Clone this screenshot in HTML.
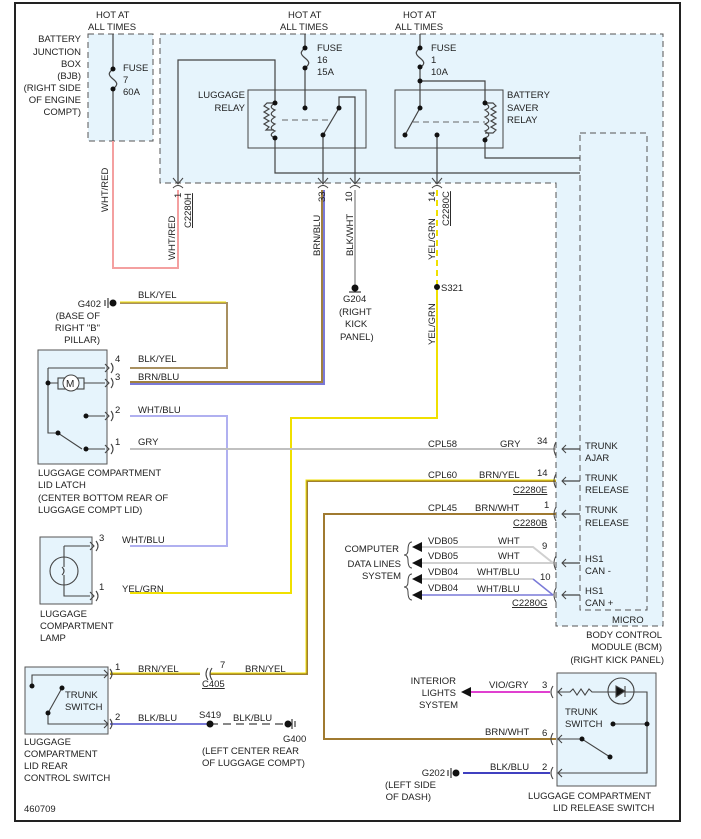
<!DOCTYPE html>
<html><head><meta charset="utf-8"><style>
html,body{margin:0;padding:0;background:#fff}
svg{display:block}
text{font-family:"Liberation Sans",Arial,sans-serif;font-size:9.5px;fill:#222}
</style></head><body>
<svg width="701" height="839" viewBox="0 0 701 839" xmlns="http://www.w3.org/2000/svg">
<rect x="15" y="3" width="665" height="818" fill="#fff" stroke="#222" stroke-width="2"/>
<rect x="88" y="34" width="65" height="107" fill="#e6f4fc" stroke="#555" stroke-dasharray="6,4"/>
<path d="M160,34 H663 V626 H556 V183 H160 Z" fill="#e6f4fc" stroke="#555" stroke-dasharray="6,4"/>
<rect x="580" y="133" width="67" height="477" fill="#e6f4fc" stroke="#555" stroke-dasharray="6,4"/>
<rect x="248" y="90" width="118" height="58" fill="#e6f4fc" stroke="#444"/>
<rect x="395" y="90" width="108" height="58" fill="#e6f4fc" stroke="#444"/>
<g fill="none" stroke="#444" stroke-width="1.2">
<path d="M113,34 V69 M113,89 V141 M113,69 c-5,4 -5,6 0,10 c5,4 5,6 0,10"/>
<path d="M305,34 V48 M305,68 V108 M305,48 c-5,4 -5,6 0,10 c5,4 5,6 0,10"/>
<path d="M178,183 V60 H275 V103 M275,138 V173 H580"/>
<path d="M275,103 c-5,3 -5,5 0,7 c-5,3 -5,5 0,7 c-5,3 -5,5 0,7 c-5,3 -5,5 0,7 c-5,3 -5,5 0,7 M275,103 h-8 l-3,3 5,3 -5,3 5,3 -5,3 5,3 -5,3 5,3 -3,3 h8"/>
<path d="M323,183 V135 L339,108 V97 H355 V183"/>
<path d="M420,34 V48 M420,67 V108 L405,135 M420,48 c-5,4 -5,6 0,10 c5,4 5,6 0,10 M420,81 H485 V103 M485,140 V158 H580"/>
<path d="M485,103 c5,3 5,5 0,7 c5,3 5,5 0,7 c5,3 5,5 0,7 c5,3 5,5 0,7 c5,3 5,5 0,7 M485,103 h8 l3,3 -5,3 5,3 -5,3 5,3 -5,3 5,3 -5,3 5,3 -3,3 h-8"/>
<path d="M437,135 V183"/>
<path d="M580,449 H562 M580,481 H562 M580,514 H562 M580,563 H562 M580,595 H562"/>
</g>
<g stroke="#666" stroke-dasharray="6,4" fill="none"><path d="M282,120 H330 M413,122 H485"/></g>
<g fill="#111">
<circle cx="113" cy="69" r="2.5"/><circle cx="113" cy="89" r="2.5"/>
<circle cx="305" cy="48" r="2.5"/><circle cx="305" cy="68" r="2.5"/><circle cx="305" cy="108" r="2.5"/>
<circle cx="275" cy="103" r="2.5"/><circle cx="275" cy="138" r="2.5"/>
<circle cx="339" cy="108" r="2.5"/><circle cx="323" cy="135" r="2.5"/>
<circle cx="420" cy="48" r="2.5"/><circle cx="420" cy="67" r="2.5"/><circle cx="420" cy="81" r="2.5"/><circle cx="420" cy="108" r="2.5"/>
<circle cx="405" cy="135" r="2.5"/><circle cx="437" cy="135" r="2.5"/>
<circle cx="485" cy="103" r="2.5"/><circle cx="485" cy="140" r="2.5"/>
</g>
<g fill="none" stroke="#444" stroke-width="1">
<path d="M173,178 L178,184 L183,178 M173,188 q5,-5 10,0"/>
<path d="M318,178 L323,184 L328,178 M318,188 q5,-5 10,0"/>
<path d="M350,178 L355,184 L360,178 M350,188 q5,-5 10,0"/>
<path d="M432,178 L437,184 L442,178 M432,188 q5,-5 10,0"/>
</g>
<g fill="none" stroke-width="2">
<path d="M113,141 V268 H178 V190" stroke="#f4a0a0"/>
<path d="M324,190 V384 H130" stroke="#7a79d8"/>
<path d="M322,190 V382 H130" stroke="#a08040"/>
<path d="M355,190 V288" stroke="#999" stroke-width="1.5"/>
<path d="M437,190 V287" stroke="#f0e000" stroke-dasharray="6,4"/>
<path d="M437,287 V418 H291 V593 H130" stroke="#f0e000"/>
<path d="M120,303 H227 V368 H130" stroke="#a89060"/>
<path d="M120,302 H226" stroke="#f0e000" stroke-width="1"/>
<path d="M130,416 H227 V546 H130" stroke="#b0b0f0"/>
<path d="M130,449 H556" stroke="#c0c0c0"/>
<path d="M556,481 H307 V674 H210 M200,674 H110" stroke="#a08030"/>
<path d="M556,480 H306 V673 M200,673 H110 M210,673 H306" stroke="#f0e000" stroke-width="1"/>
<path d="M556,514 H324 V739 H556" stroke="#a07a30"/>
<path d="M420,547 H533 L553,563 M420,563 H553 M420,579 H533" stroke="#d0d0d0"/>
<path d="M533,579 L553,595 M420,595 H553" stroke="#7a7ad8" stroke-width="1.5"/>
<path d="M110,724 H210" stroke="#7a7ad8"/>
<path d="M210,724 H283" stroke="#888" stroke-dasharray="8,5"/>
<path d="M470,692 H550" stroke="#e040d0"/>
<path d="M463,773 H550" stroke="#4040c0"/>
</g>
<g fill="#111" stroke="#111">
<circle cx="113" cy="303" r="3"/><path d="M108,298 V308 M105,300 V306" fill="none"/>
<circle cx="355" cy="288" r="3"/><path d="M349,292 H361" fill="none"/>
<circle cx="437" cy="287" r="2.5"/><circle cx="210" cy="724" r="3"/>
<circle cx="288" cy="724" r="3"/><path d="M292,719 V729 M295,721 V727" fill="none"/>
<circle cx="456" cy="773" r="3"/><path d="M451,768 V778 M448,770 V776" fill="none"/>
</g>
<rect x="38" y="350" width="69" height="114" fill="#e6f4fc" stroke="#555"/>
<g fill="none" stroke="#444" stroke-width="1.1">
<path d="M48,368 H105 M48,368 V433 H58 L82,449 M48,383 H58 M84,383 H105 M86,416 H105 M86,449 H105"/>
<rect x="58" y="378" width="26" height="11"/>
<path d="M105,364 l4,4 -4,4 M105,379 l4,4 -4,4 M105,412 l4,4 -4,4 M105,445 l4,4 -4,4"/>
<path d="M111,363 q4,5 0,10 M111,378 q4,5 0,10 M111,411 q4,5 0,10 M111,444 q4,5 0,10"/>
</g>
<circle cx="71" cy="383" r="8" fill="#fff" stroke="#444"/><text x="66" y="387" style="font-size:10px">M</text>
<g fill="#111"><circle cx="48" cy="383" r="2.5"/><circle cx="58" cy="433" r="2.5"/><circle cx="86" cy="449" r="2.5"/><circle cx="86" cy="416" r="2.5"/></g>
<rect x="40" y="537" width="52" height="67" fill="#e6f4fc" stroke="#555"/>
<g fill="none" stroke="#444" stroke-width="1.1">
<circle cx="64" cy="571" r="14"/><path d="M64,546 H90 M64,546 V567 M64,575 V596 H90 M62,567 q4,4 0,8 M90,542 l4,4 -4,4 M90,592 l4,4 -4,4 M96,541 q4,5 0,10 M96,591 q4,5 0,10"/>
</g>
<rect x="25" y="667" width="83" height="67" fill="#e6f4fc" stroke="#555"/>
<g fill="none" stroke="#444" stroke-width="1.1">
<path d="M32,686 V675 H108 M48,713 V724 H108 M48,713 L62,688 M104,670 l4,4 -4,4 M104,720 l4,4 -4,4 M110,669 q4,5 0,10 M110,719 q4,5 0,10"/>
<path d="M212,668 q-4,6 0,12 M208,668 q-4,6 0,12"/>
</g>
<g fill="#111"><circle cx="32" cy="686" r="2.5"/><circle cx="48" cy="713" r="2.5"/><circle cx="62" cy="688" r="2.5"/></g>
<rect x="557" y="673" width="99" height="113" fill="#e6f4fc" stroke="#555"/>
<g fill="none" stroke="#444" stroke-width="1.1">
<path d="M558,692 H570 l3,-3 4,6 4,-6 4,6 4,-6 3,3 H647 V773 H558 M613,724 H647 M558,739 H582 L610,757"/>
<circle cx="621" cy="691" r="13"/><path d="M616,686 V697 L625,691 Z M625,686 V697" fill="#111"/>
<path d="M562,688 l-4,4 4,4 M562,735 l-4,4 4,4 M562,769 l-4,4 4,4 M553,686 q-4,6 0,12 M553,733 q-4,6 0,12 M553,767 q-4,6 0,12"/>
</g>
<g fill="#111"><circle cx="613" cy="724" r="2.5"/><circle cx="647" cy="724" r="2.5"/><circle cx="582" cy="739" r="2.5"/><circle cx="610" cy="757" r="2.5"/></g>
<g fill="none" stroke="#444" stroke-width="1">
<path d="M566,445 l-4,4 4,4 M566,477 l-4,4 4,4 M566,510 l-4,4 4,4 M566,559 l-4,4 4,4 M566,591 l-4,4 4,4"/>
<path d="M556,442 q-4,7 0,14 M556,474 q-4,7 0,14 M556,507 q-4,7 0,14 M556,556 q-4,7 0,14 M556,588 q-4,7 0,14"/>
<path d="M412,542 q-4,0 -4,8 q0,5 -4,5 q4,0 4,5 q0,8 4,8 M412,574 q-4,0 -4,8 q0,5 -4,5 q4,0 4,5 q0,8 4,8"/>
</g>
<g fill="#111"><path d="M412,547 l10,-5 v10z M412,563 l10,-5 v10z M412,579 l10,-5 v10z M412,595 l10,-5 v10z M461,692 l10,-5 v10z"/></g>
<g>
<text x="96" y="18">HOT AT</text><text x="88" y="30">ALL TIMES</text>
<text x="288" y="18">HOT AT</text><text x="280" y="30">ALL TIMES</text>
<text x="403" y="18">HOT AT</text><text x="395" y="30">ALL TIMES</text>
<g text-anchor="end"><text x="81" y="42">BATTERY</text><text x="81" y="55">JUNCTION</text><text x="81" y="67">BOX</text><text x="81" y="79">(BJB)</text><text x="81" y="91">(RIGHT SIDE</text><text x="81" y="103">OF ENGINE</text><text x="81" y="115">COMPT)</text>
<text x="245" y="98">LUGGAGE</text><text x="245" y="111">RELAY</text></g>
<text x="123" y="71">FUSE</text><text x="123" y="83">7</text><text x="123" y="95">60A</text>
<text x="317" y="51">FUSE</text><text x="317" y="63">16</text><text x="317" y="75">15A</text>
<text x="431" y="51">FUSE</text><text x="431" y="63">1</text><text x="431" y="75">10A</text>
<text x="507" y="98">BATTERY</text><text x="507" y="111">SAVER</text><text x="507" y="123">RELAY</text>
<g transform="rotate(-90)">
<text x="-212" y="108">WHT/RED</text><text x="-260" y="175">WHT/RED</text>
<text x="-198" y="181">1</text><text x="-228" y="191" text-decoration="underline">C2280H</text>
<text x="-202" y="325">33</text><text x="-256" y="320">BRN/BLU</text>
<text x="-202" y="352">10</text><text x="-256" y="353">BLK/WHT</text>
<text x="-202" y="435">14</text><text x="-226" y="449" text-decoration="underline">C2280C</text>
<text x="-260" y="435">YEL/GRN</text><text x="-345" y="435">YEL/GRN</text>
</g>
<text x="441" y="291">S321</text>
<text x="343" y="302">G204</text><text x="339" y="315">(RIGHT</text><text x="345" y="327">KICK</text><text x="340" y="340">PANEL)</text>
<g text-anchor="end"><text x="101" y="307">G402</text><text x="100" y="319">(BASE OF</text><text x="100" y="331">RIGHT "B"</text><text x="100" y="343">PILLAR)</text></g>
<text x="138" y="298">BLK/YEL</text>
<text x="115" y="362">4</text><text x="138" y="362">BLK/YEL</text>
<text x="115" y="380">3</text><text x="138" y="380">BRN/BLU</text>
<text x="115" y="413">2</text><text x="138" y="413">WHT/BLU</text>
<text x="115" y="445">1</text><text x="138" y="445">GRY</text>
<text x="38" y="476">LUGGAGE COMPARTMENT</text><text x="38" y="488">LID LATCH</text><text x="38" y="501">(CENTER BOTTOM REAR OF</text><text x="38" y="513">LUGGAGE COMPT LID)</text>
<text x="99" y="541">3</text><text x="122" y="543">WHT/BLU</text>
<text x="99" y="590">1</text><text x="122" y="592">YEL/GRN</text>
<text x="40" y="617">LUGGAGE</text><text x="40" y="629">COMPARTMENT</text><text x="40" y="641">LAMP</text>
<text x="428" y="447">CPL58</text><text x="500" y="447">GRY</text><text x="537" y="444">34</text>
<text x="428" y="478">CPL60</text><text x="479" y="478">BRN/YEL</text><text x="537" y="476">14</text>
<text x="513" y="493" text-decoration="underline">C2280E</text>
<text x="428" y="511">CPL45</text><text x="475" y="511">BRN/WHT</text><text x="544" y="508">1</text>
<text x="513" y="526" text-decoration="underline">C2280B</text>
<text x="428" y="544">VDB05</text><text x="498" y="544">WHT</text><text x="542" y="549">9</text>
<text x="428" y="559">VDB05</text><text x="498" y="559">WHT</text>
<text x="428" y="575">VDB04</text><text x="477" y="575">WHT/BLU</text><text x="540" y="580">10</text>
<text x="428" y="591">VDB04</text><text x="477" y="592">WHT/BLU</text>
<text x="512" y="606" text-decoration="underline">C2280G</text>
<g text-anchor="end"><text x="399" y="552">COMPUTER</text><text x="401" y="567">DATA LINES</text><text x="401" y="579">SYSTEM</text></g>
<text x="585" y="449">TRUNK</text><text x="585" y="461">AJAR</text>
<text x="585" y="481">TRUNK</text><text x="585" y="493">RELEASE</text>
<text x="585" y="513">TRUNK</text><text x="585" y="526">RELEASE</text>
<text x="585" y="562">HS1</text><text x="585" y="574">CAN -</text>
<text x="585" y="594">HS1</text><text x="585" y="606">CAN +</text>
<text x="612" y="623">MICRO</text>
<g text-anchor="end"><text x="662" y="638">BODY CONTROL</text><text x="662" y="650">MODULE (BCM)</text><text x="664" y="663">(RIGHT KICK PANEL)</text></g>
<text x="115" y="670">1</text><text x="138" y="672">BRN/YEL</text>
<text x="220" y="668">7</text><text x="245" y="672">BRN/YEL</text><text x="202" y="687" text-decoration="underline">C405</text>
<text x="65" y="698">TRUNK</text><text x="65" y="710">SWITCH</text>
<text x="115" y="720">2</text><text x="138" y="721">BLK/BLU</text>
<text x="199" y="718">S419</text><text x="233" y="721">BLK/BLU</text>
<text x="283" y="742">G400</text><text x="202" y="754">(LEFT CENTER REAR</text><text x="202" y="766">OF LUGGAGE COMPT)</text>
<text x="24" y="745">LUGGAGE</text><text x="24" y="757">COMPARTMENT</text><text x="24" y="769">LID REAR</text><text x="24" y="781">CONTROL SWITCH</text>
<text x="24" y="812">460709</text>
<g text-anchor="end"><text x="456" y="684">INTERIOR</text><text x="456" y="696">LIGHTS</text><text x="458" y="708">SYSTEM</text>
<text x="445" y="776">G202</text><text x="436" y="788">(LEFT SIDE</text><text x="431" y="800">OF DASH)</text></g>
<text x="489" y="688">VIO/GRY</text><text x="542" y="688">3</text>
<text x="485" y="735">BRN/WHT</text><text x="542" y="736">6</text>
<text x="490" y="770">BLK/BLU</text><text x="542" y="770">2</text>
<text x="565" y="715">TRUNK</text><text x="565" y="727">SWITCH</text>
<text x="528" y="799">LUGGAGE COMPARTMENT</text><text x="553" y="811">LID RELEASE SWITCH</text>
</g>
</svg>
</body></html>
